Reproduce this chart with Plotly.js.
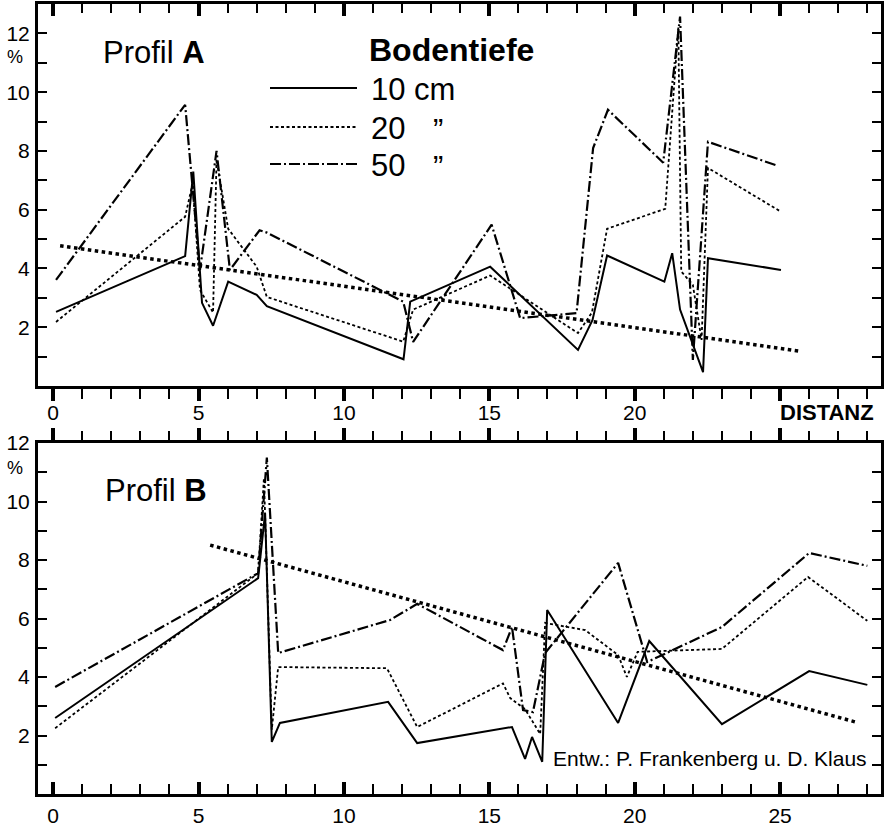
<!DOCTYPE html>
<html>
<head>
<meta charset="utf-8">
<script src="https://cdn.plot.ly/plotly-3.0.1.min.js"></script>
<style>html,body{margin:0;padding:0;background:#fff;}#chart{width:891px;height:829px;}</style>
</head>
<body>
<div id="chart"></div>
<script>
// ---- Profil A (top panel) ----
const xA10 = [0.1, 4.54, 4.82, 5.12, 5.5, 6.02, 7.0, 7.35, 12.05, 12.28, 15.03, 18.05, 18.55, 19.05, 21.02, 21.29, 21.56, 22.35, 22.52, 25.03];
const yA10 = [2.52, 4.42, 7.3, 2.83, 2.05, 3.55, 3.1, 2.72, 0.91, 2.87, 4.06, 1.23, 2.25, 4.44, 3.55, 4.52, 2.6, 0.47, 4.35, 3.95];
const xA20 = [0.1, 4.54, 4.8, 5.05, 5.5, 5.62, 6.02, 7.0, 7.35, 12.04, 12.38, 15.03, 18.05, 18.53, 19.05, 21.05, 21.5, 21.6, 22.0, 22.3, 22.52, 25.03];
const yA20 = [2.18, 5.76, 6.9, 3.27, 2.5, 7.7, 5.35, 4.06, 3.03, 1.51, 2.6, 3.76, 1.8, 2.5, 5.35, 6.03, 12.2, 3.9, 3.44, 1.57, 7.42, 5.93];
const xA50 = [0.1, 4.54, 5.05, 5.62, 6.08, 7.1, 7.35, 12.04, 12.38, 15.08, 16.06, 18.0, 18.57, 19.08, 20.98, 21.56, 22.0, 22.52, 24.9];
const yA50 = [3.61, 9.57, 3.95, 8.0, 3.95, 5.3, 5.22, 2.87, 1.5, 5.49, 2.31, 2.48, 8.1, 9.4, 7.6, 12.57, 0.89, 8.31, 7.5];
const xAtrend = [0.24, 25.65];
const yAtrend = [4.77, 1.19];

// ---- Profil B (bottom panel) ----
const xB10 = [0.07, 7.05, 7.29, 7.52, 7.8, 11.52, 12.52, 15.78, 16.23, 16.47, 16.82, 16.99, 19.43, 20.5, 23.0, 26.0, 28.0];
const yB10 = [2.6, 7.38, 9.6, 1.78, 2.43, 3.15, 1.74, 2.29, 1.2, 1.95, 1.1, 6.29, 2.43, 5.23, 2.39, 4.2, 3.73];
const xB20 = [0.07, 7.05, 7.25, 7.52, 7.74, 11.48, 12.52, 15.47, 15.72, 16.23, 16.75, 16.92, 18.3, 19.43, 19.73, 20.1, 23.0, 25.96, 28.0];
const yB20 = [2.25, 7.55, 10.8, 2.2, 4.34, 4.3, 2.29, 3.78, 3.28, 2.9, 2.05, 5.85, 5.6, 4.75, 4.0, 4.86, 4.96, 7.42, 5.92];
const xB50 = [0.07, 7.05, 7.35, 7.74, 11.59, 12.52, 15.47, 15.78, 16.16, 16.5, 16.92, 19.43, 20.43, 23.0, 26.0, 28.0];
const yB50 = [3.66, 7.55, 11.5, 4.82, 5.95, 6.5, 4.92, 5.71, 2.87, 2.8, 4.82, 7.9, 4.51, 5.71, 8.24, 7.8];
const xBtrend = [5.4, 27.6];
const yBtrend = [8.51, 2.46];

// ---- labels ----
const xTickVals = [0, 5, 10, 15, 20, 25];
const xTickTextTop = ['0', '5', '10', '15', '20', ''];
const xTickTextBottom = ['0', '5', '10', '15', '20', '25'];
const yTickVals = [2, 4, 6, 8, 10, 12];
const yTickText = ['2', '4', '6', '8', '10', '12'];
const depthLabels = ['10 cm', '20', '50'];

const FONT = 'Liberation Sans, Arial, Helvetica, sans-serif';
const W = 891, H = 829;
const px = v => v / W;
const py = v => 1 - v / H;

const sSolid = {color: '#000', width: 2, dash: 'solid'};
const sDot = {color: '#000', width: 1.8, dash: '3px,2.5px'};
const sDash = {color: '#000', width: 2.2, dash: '11px,3px,2px,3px'};
const sTrend = {color: '#000', width: 3.5, dash: 'dot'};

function tr(x, y, line, xa, ya) {
  return {x: x, y: y, type: 'scatter', mode: 'lines', line: line, xaxis: xa, yaxis: ya,
          showlegend: false, hoverinfo: 'skip'};
}

const data = [
  tr(xA10, yA10, sSolid, 'x', 'y'),
  tr(xA20, yA20, sDot, 'x', 'y'),
  tr(xA50, yA50, sDash, 'x', 'y'),
  tr(xAtrend, yAtrend, sTrend, 'x', 'y'),
  tr(xB10, yB10, sSolid, 'x2', 'y2'),
  tr(xB20, yB20, sDot, 'x2', 'y2'),
  tr(xB50, yB50, sDash, 'x2', 'y2'),
  tr(xBtrend, yBtrend, sTrend, 'x2', 'y2'),
  // empty carriers so the top-edge tick axes are drawn
  tr([], [], sSolid, 'x3', 'y'),
  tr([], [], sSolid, 'x4', 'y2')
];

const xDom = [px(38), px(881)];
const xRange = [-0.52, 28.47];

function xAx(opts) {
  return Object.assign({
    domain: xDom, range: xRange, showgrid: false, zeroline: false,
    showline: true, linecolor: '#000', linewidth: 3,
    tickmode: 'array', tickvals: xTickVals, ticklen: 12, tickwidth: 4, tickcolor: '#000',
    tickfont: {family: FONT, size: 21, color: '#000'},
    fixedrange: true
  }, opts);
}
function yAx(opts) {
  return Object.assign({
    showgrid: false, zeroline: false, showline: true, linecolor: '#000', linewidth: 3,
    mirror: 'ticks', ticks: 'inside', ticklen: 9, tickwidth: 2, tickcolor: '#000',
    tickmode: 'array', tickvals: yTickVals, ticktext: yTickText,
    minor: {tickmode: 'linear', tick0: 1, dtick: 2, ticks: 'inside', ticklen: 9, tickwidth: 2, tickcolor: '#000'},
    tickfont: {family: FONT, size: 21, color: '#000'},
    ticklabelstandoff: 1,
    fixedrange: true
  }, opts);
}

const layout = {
  width: W, height: H,
  margin: {l: 0, r: 0, t: 0, b: 0},
  paper_bgcolor: '#fff', plot_bgcolor: '#fff',
  showlegend: false,
  xaxis: xAx({anchor: 'y', side: 'bottom', ticks: 'outside', ticktext: xTickTextTop, ticklabelstandoff: -6,
    minor: {tickmode: 'linear', tick0: 0, dtick: 1, ticks: 'outside', ticklen: 10, tickwidth: 2, tickcolor: '#000'}}),
  xaxis3: xAx({anchor: 'y', overlaying: 'x', side: 'top', ticks: 'inside', showticklabels: false,
    minor: {tickmode: 'linear', tick0: 0, dtick: 1, ticks: 'inside', ticklen: 9, tickwidth: 2, tickcolor: '#000'}}),
  xaxis2: xAx({anchor: 'y2', side: 'bottom', ticks: 'inside', ticktext: xTickTextBottom, ticklabelstandoff: 1,
    minor: {tickmode: 'linear', tick0: 0, dtick: 1, ticks: 'inside', ticklen: 10, tickwidth: 2, tickcolor: '#000'}}),
  xaxis4: xAx({anchor: 'y2', overlaying: 'x2', side: 'top', ticks: 'outside', showticklabels: false,
    minor: {tickmode: 'linear', tick0: 0, dtick: 1, ticks: 'outside', ticklen: 9, tickwidth: 2, tickcolor: '#000'}}),
  yaxis: yAx({domain: [py(386), py(4)], range: [0, 13], anchor: 'x'}),
  yaxis2: yAx({domain: [py(794), py(443)], range: [0, 12], anchor: 'x2'}),
  shapes: [
    {type: 'line', xref: 'paper', yref: 'paper', x0: px(270), x1: px(357), y0: py(88), y1: py(88), line: sSolid},
    {type: 'line', xref: 'paper', yref: 'paper', x0: px(270), x1: px(357), y0: py(127), y1: py(127), line: sDot},
    {type: 'line', xref: 'paper', yref: 'paper', x0: px(270), x1: px(357), y0: py(164), y1: py(164), line: sDash}
  ],
  annotations: [
    {text: 'Profil <b>A</b>', x: px(101), y: py(52), xanchor: 'left', yanchor: 'middle', font: {family: FONT, size: 31, color: '#000'}},
    {text: 'Profil <b>B</b>', x: px(103), y: py(490), xanchor: 'left', yanchor: 'middle', font: {family: FONT, size: 31, color: '#000'}},
    {text: '<b>Bodentiefe</b>', x: px(367), y: py(50), xanchor: 'left', yanchor: 'middle', font: {family: FONT, size: 32, color: '#000'}},
    {text: depthLabels[0], x: px(369), y: py(90), xanchor: 'left', yanchor: 'middle'},
    {text: depthLabels[1], x: px(369), y: py(128), xanchor: 'left', yanchor: 'middle'},
    {text: depthLabels[2], x: px(369), y: py(165), xanchor: 'left', yanchor: 'middle'},
    {text: '\u201D', x: px(431), y: py(130), xanchor: 'left', yanchor: 'middle'},
    {text: '\u201D', x: px(431), y: py(167), xanchor: 'left', yanchor: 'middle'},
    {text: '<b>DISTANZ</b>', x: px(778), y: py(412), xanchor: 'left', yanchor: 'middle', font: {family: FONT, size: 22, color: '#000'}},
    {text: '%', x: px(25), y: py(57), xanchor: 'right', yanchor: 'middle', font: {family: FONT, size: 18, color: '#000'}},
    {text: '%', x: px(25), y: py(468), xanchor: 'right', yanchor: 'middle', font: {family: FONT, size: 18, color: '#000'}},
    {text: 'Entw.: P. Frankenberg u. D. Klaus', x: px(869), y: py(758), xanchor: 'right', yanchor: 'middle',
     font: {family: FONT, size: 21, color: '#000'}}
  ].map(a => Object.assign({xref: 'paper', yref: 'paper', showarrow: false,
     font: {family: FONT, size: 31, color: '#000'}}, a))
};

Plotly.newPlot('chart', data, layout, {staticPlot: true, displayModeBar: false});
</script>
</body>
</html>
